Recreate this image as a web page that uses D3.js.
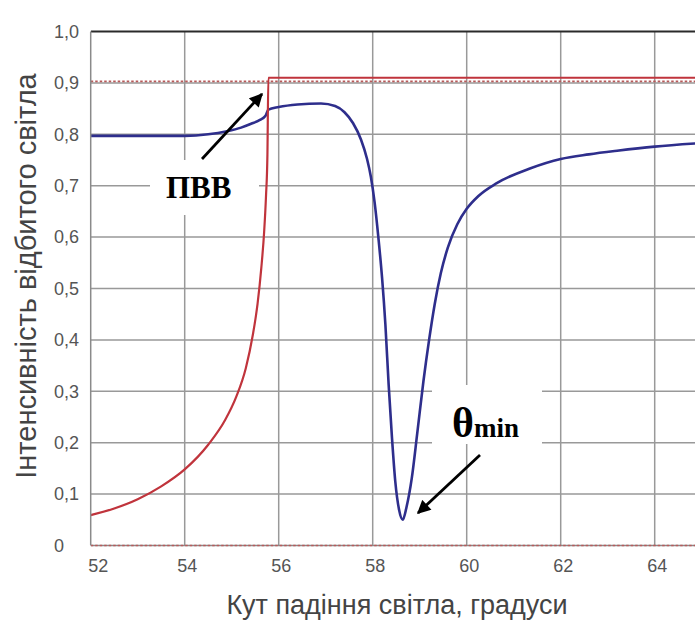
<!DOCTYPE html>
<html>
<head>
<meta charset="utf-8">
<script src="https://cdn.jsdelivr.net/npm/d3@7"></script>
<style>
  html, body { margin: 0; padding: 0; background: #fff; }
  svg { display: block; }
</style>
</head>
<body>
<div id="chart"></div>
<script>
// Incidence angle, degrees
const xTicks = [52, 54, 56, 58, 60, 62, 64, 66];
const yTicks = [0, 0.1, 0.2, 0.3, 0.4, 0.5, 0.6, 0.7, 0.8, 0.9, 1.0];
const yTickLabels = ["0", "0,1", "0,2", "0,3", "0,4", "0,5", "0,6", "0,7", "0,8", "0,9", "1,0"];

// Reflectance of the bare prism (red): rises to total internal reflection
const redAngles = [52.0, 52.5, 53.0, 53.5, 54.0, 54.5, 54.86, 55.1, 55.3, 55.45, 55.55, 55.63, 55.69, 55.73, 55.76, 55.78, 56.5, 58, 60, 62, 64, 66];
const redValues = [0.059, 0.072, 0.090, 0.115, 0.148, 0.196, 0.244, 0.290, 0.345, 0.410, 0.470, 0.540, 0.610, 0.680, 0.760, 0.910, 0.910, 0.910, 0.910, 0.910, 0.910, 0.910];

// Reflectance with the metal film (blue): surface plasmon resonance dip
const blueAngles = [52.0, 53.0, 54.0, 54.5, 54.9, 55.2, 55.4, 55.6, 55.72, 55.78, 56.0, 56.4, 56.9, 57.2, 57.4, 57.58, 57.75, 57.88, 57.96, 58.04, 58.12, 58.2, 58.27, 58.34, 58.41, 58.48, 58.56, 58.64, 58.72, 58.83, 58.95, 59.08, 59.2, 59.32, 59.45, 59.6, 59.8, 60.0, 60.25, 60.64, 61.36, 62.0, 62.6, 63.2, 64.0, 64.85, 66.0];
const blueValues = [0.797, 0.797, 0.797, 0.800, 0.806, 0.813, 0.820, 0.828, 0.836, 0.848, 0.853, 0.858, 0.860, 0.855, 0.843, 0.822, 0.790, 0.752, 0.718, 0.668, 0.600, 0.520, 0.430, 0.312, 0.210, 0.125, 0.070, 0.050, 0.075, 0.130, 0.220, 0.320, 0.400, 0.470, 0.530, 0.580, 0.625, 0.655, 0.680, 0.705, 0.734, 0.752, 0.761, 0.768, 0.776, 0.782, 0.788];

// Dotted reference levels
const refLevels = [0, 0.9];

const W = 695, H = 621;
const mLeft = 90.7, mTop = 31.5, mBottom = 545.5;

const x = d3.scaleLinear().domain([52, 66]).range([mLeft, mLeft + 14 * 47]);
const y = d3.scaleLinear().domain([0, 1]).range([mBottom, mTop]);

const svg = d3.select("#chart").append("svg")
  .attr("width", W).attr("height", H)
  .style("background", "#fff");

const defs = svg.append("defs");
defs.append("clipPath").attr("id", "plot")
  .append("rect").attr("x", mLeft).attr("y", 0).attr("width", W - mLeft).attr("height", H);

defs.append("marker")
  .attr("id", "head").attr("viewBox", "0 0 10 10")
  .attr("refX", 9).attr("refY", 5)
  .attr("markerWidth", 5.4).attr("markerHeight", 4.8)
  .attr("markerUnits", "strokeWidth")
  .attr("orient", "auto")
  .append("path").attr("d", "M0,0 L10,5 L0,10 Z").attr("fill", "#000");

const plot = svg.append("g").attr("clip-path", "url(#plot)");

// grid
plot.append("g").selectAll("line")
  .data(xTicks.slice(1))
  .join("line")
  .attr("x1", d => x(d)).attr("x2", d => x(d))
  .attr("y1", y(1)).attr("y2", y(0))
  .attr("stroke", "#999").attr("stroke-width", 1.5);

plot.append("g").selectAll("line")
  .data(yTicks.filter(v => v > 0 && v < 1))
  .join("line")
  .attr("x1", mLeft).attr("x2", W)
  .attr("y1", d => y(d)).attr("y2", d => y(d))
  .attr("stroke", "#999").attr("stroke-width", 1.5);

// bottom edge
plot.append("line")
  .attr("x1", mLeft).attr("x2", W).attr("y1", y(0)).attr("y2", y(0))
  .attr("stroke", "#8a8a8a").attr("stroke-width", 1.5);

// dotted reference levels
plot.append("g").selectAll("line")
  .data(refLevels)
  .join("line")
  .attr("x1", mLeft).attr("x2", W)
  .attr("y1", d => y(d) - (d > 0 ? 1.5 : 0)).attr("y2", d => y(d) - (d > 0 ? 1.5 : 0))
  .attr("stroke", "#b85a5a").attr("stroke-width", 1.6)
  .attr("stroke-dasharray", "2.5,2");

// label backgrounds
svg.append("rect").attr("x", 150).attr("y", 160).attr("width", 109).attr("height", 55).attr("fill", "#fff");
svg.append("rect").attr("x", 432).attr("y", 385).attr("width", 110).attr("height", 59).attr("fill", "#fff");

// top edge and left axis line
plot.append("line")
  .attr("x1", mLeft).attr("x2", W).attr("y1", y(1)).attr("y2", y(1))
  .attr("stroke", "#2a2a2a").attr("stroke-width", 2);
svg.append("line")
  .attr("x1", mLeft).attr("x2", mLeft).attr("y1", y(1)).attr("y2", y(0))
  .attr("stroke", "#8a8a8a").attr("stroke-width", 1.5);

const line = d3.line().x(d => x(d[0])).y(d => y(d[1])).curve(d3.curveMonotoneX);

plot.append("path")
  .datum(d3.zip(blueAngles, blueValues))
  .attr("d", line)
  .attr("fill", "none").attr("stroke", "#2e2e8c").attr("stroke-width", 2.6)
  .attr("stroke-linejoin", "round");

plot.append("path")
  .datum(d3.zip(redAngles, redValues))
  .attr("d", line)
  .attr("fill", "none").attr("stroke", "#c0343c").attr("stroke-width", 2.2)
  .attr("stroke-linejoin", "miter");

// axes
const yAxis = d3.axisLeft(y).tickValues(yTicks)
  .tickFormat((d, i) => yTickLabels[i]).tickSize(0).tickPadding(0);
const gy = svg.append("g").attr("transform", `translate(${mLeft},0)`).call(yAxis);
gy.select(".domain").remove();
gy.selectAll("text")
  .attr("x", 54 - mLeft)
  .attr("text-anchor", "start")
  .attr("font-family", "Liberation Sans, Arial, sans-serif")
  .attr("font-size", 18).attr("fill", "#555");

const xAxis = d3.axisBottom(x).tickValues(xTicks.slice(0, 7))
  .tickFormat(d3.format("d")).tickSize(0).tickPadding(14);
const gx = svg.append("g").attr("transform", `translate(0,${mBottom})`).call(xAxis);
gx.select(".domain").remove();
gx.selectAll("text").attr("font-family", "Liberation Sans, Arial, sans-serif")
  .attr("font-size", 18).attr("fill", "#555");
gx.selectAll(".tick text").filter(d => d === 52).attr("dx", 7);
gx.selectAll(".tick text").filter(d => d !== 52).attr("dx", 2);

// axis titles
svg.append("text")
  .attr("x", 397).attr("y", 614)
  .attr("text-anchor", "middle")
  .attr("font-family", "Liberation Sans, Arial, sans-serif")
  .attr("font-size", 27).attr("fill", "#444")
  .text("Кут падіння світла, градуси");

svg.append("text")
  .attr("transform", "translate(36,276) rotate(-90)")
  .attr("text-anchor", "middle")
  .attr("font-family", "Liberation Sans, Arial, sans-serif")
  .attr("font-size", 29).attr("fill", "#444")
  .text("Інтенсивність відбитого світла");

// annotations
svg.append("text")
  .attr("x", 166).attr("y", 198)
  .attr("font-family", "Liberation Serif, Times New Roman, serif")
  .attr("font-weight", "bold").attr("font-size", 31).attr("fill", "#000")
  .text("ПВВ");
svg.append("line")
  .attr("x1", 202).attr("y1", 159).attr("x2", 262).attr("y2", 94)
  .attr("stroke", "#000").attr("stroke-width", 2.8)
  .attr("marker-end", "url(#head)");

const th = svg.append("text")
  .attr("x", 452).attr("y", 437)
  .attr("font-family", "Liberation Serif, Times New Roman, serif")
  .attr("font-weight", "bold").attr("fill", "#000");
th.append("tspan").attr("font-size", 42).text("θ");
th.append("tspan").attr("font-size", 27).text("min");
svg.append("line")
  .attr("x1", 480).attr("y1", 455).attr("x2", 418).attr("y2", 513)
  .attr("stroke", "#000").attr("stroke-width", 2.8)
  .attr("marker-end", "url(#head)");
</script>
</body>
</html>
